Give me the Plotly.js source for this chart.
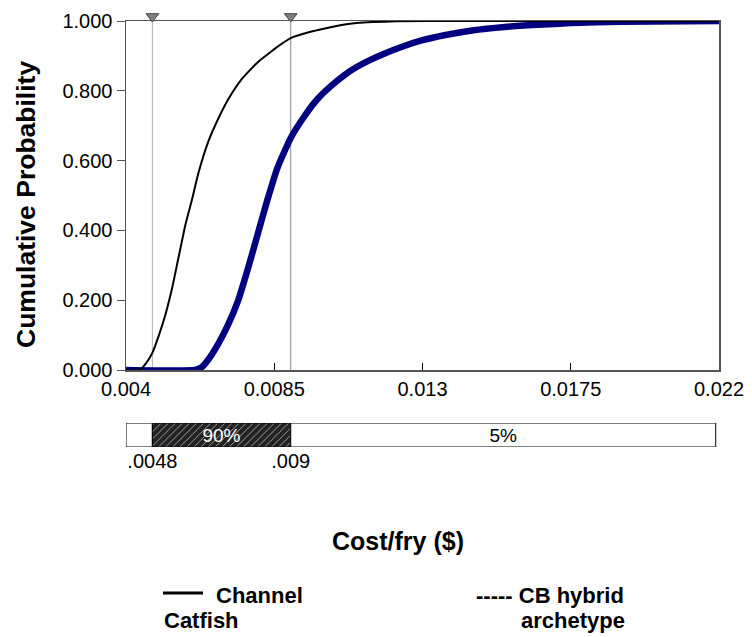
<!DOCTYPE html>
<html>
<head>
<meta charset="utf-8">
<script src="https://cdn.plot.ly/plotly-3.0.1.min.js"></script>
<style>
  html, body { margin: 0; padding: 0; background: #fff; }
  #chart { width: 752px; height: 637px; }
</style>
</head>
<body>
<div id="chart"></div>
<script>
// Cumulative distributions of cost per fry
const catfishX = [0.0040, 0.00442, 0.0046, 0.0048, 0.0050, 0.0052, 0.0054, 0.0056, 0.0058, 0.0060,
                  0.0062, 0.0065, 0.0068, 0.0071, 0.0075, 0.0080, 0.0084, 0.0087, 0.0090, 0.0096,
                  0.0100, 0.0105, 0.0110, 0.0115, 0.0122, 0.0140, 0.0220];
const catfishY = [0, 0, 0.018, 0.049, 0.10, 0.16, 0.235, 0.325, 0.415, 0.487,
                  0.565, 0.655, 0.72, 0.775, 0.832, 0.882, 0.912, 0.933, 0.951, 0.969,
                  0.978, 0.988, 0.994, 0.997, 0.999, 1.0, 1.0];

const hybridX = [0.0040, 0.0061, 0.0063, 0.0065, 0.0068, 0.0071, 0.0074, 0.0077, 0.0080, 0.0083,
                 0.0086, 0.0090, 0.0094, 0.0098, 0.0102, 0.0106, 0.0110, 0.0114, 0.0118, 0.0124,
                 0.0130, 0.0137, 0.0145, 0.0155, 0.0165, 0.0175, 0.0190, 0.0220];
const hybridY = [0, 0, 0.008, 0.03, 0.075, 0.13, 0.198, 0.29, 0.39, 0.49,
                 0.58, 0.665, 0.725, 0.775, 0.812, 0.843, 0.868, 0.888, 0.905, 0.927,
                 0.945, 0.960, 0.973, 0.983, 0.989, 0.994, 0.998, 1.0];

// Delimiters (5% and 95% points) and the band beneath the axis
const delimiters = [0.0048, 0.009];
const delimiterLabels = ['.0048', '.009'];
const bandEdges = [0.004, 0.0048, 0.009, 0.0219];
const bandLabels = ['', '90%', '5%'];

// Axis ticks
const xTicks = [0.004, 0.0085, 0.013, 0.0175, 0.022];
const xTickText = ['0.004', '0.0085', '0.013', '0.0175', '0.022'];
const yTicks = [0, 0.2, 0.4, 0.6, 0.8, 1.0];
const yTickText = ['0.000', '0.200', '0.400', '0.600', '0.800', '1.000'];

const FONT = '"Liberation Sans", Arial, Helvetica, sans-serif';
const markerLevel = 1.013;

// Pixel frame of the whole plotting region (main chart plus band)
const plotTop = 10, plotBottom = 447, plotLeft = 126, plotRight = 719;
const H = plotBottom - plotTop, W = plotRight - plotLeft;
const px = v => (v - plotLeft) / W;
const py = v => (plotBottom - v) / H;
const mainTop = 21, mainBottom = 370, bandTop = 423;

const traces = [
  {
    x: [delimiters[0], delimiters[0]], y: [0, 1], mode: 'lines', hoverinfo: 'skip',
    line: { color: '#b0b0b0', width: 1 }, showlegend: false
  },
  {
    x: [delimiters[1], delimiters[1]], y: [0, 1], mode: 'lines', hoverinfo: 'skip',
    line: { color: '#888888', width: 1 }, showlegend: false
  },
  {
    x: hybridX, y: hybridY, mode: 'lines', name: 'CB hybrid archetype',
    line: { color: '#000080', width: 6.5, shape: 'spline', smoothing: 0.5 }, showlegend: false
  },
  {
    x: catfishX, y: catfishY, mode: 'lines', name: 'Channel Catfish',
    line: { color: '#000000', width: 2, shape: 'spline', smoothing: 0.5 }, showlegend: false
  },
  {
    // delimiter markers sit just above the 1.000 line, on a taller twin axis
    x: delimiters, y: delimiters.map(() => markerLevel), yaxis: 'y3', mode: 'markers',
    hoverinfo: 'skip', showlegend: false,
    marker: { symbol: 'triangle-down', size: 11, color: '#808080', line: { color: '#404040', width: 1 } }
  }
];

// Band segments: plain, hatched 90% interval, plain
const segStyles = [
  { color: '#ffffff', pattern: { shape: '' }, textColor: '#000' },
  { color: '#222222', pattern: { shape: '/', bgcolor: '#222222', fgcolor: '#c8c8c8', size: 5, solidity: 0.15 }, textColor: '#fff' },
  { color: '#ffffff', pattern: { shape: '' }, textColor: '#000' }
];
for (let i = 0; i < bandLabels.length; i++) {
  traces.push({
    type: 'bar', orientation: 'h', xaxis: 'x2', yaxis: 'y2',
    y: [0], base: [bandEdges[i]], x: [bandEdges[i + 1] - bandEdges[i]], width: [1],
    text: [bandLabels[i]], textposition: 'inside', insidetextanchor: 'middle',
    textangle: 0, constraintext: 'none',
    textfont: { family: FONT, size: 19, color: segStyles[i].textColor },
    marker: { color: segStyles[i].color, pattern: segStyles[i].pattern, line: { color: '#000', width: 1 } },
    hoverinfo: 'skip', showlegend: false
  });
}

const legendFont = { family: FONT, size: 22, color: '#000' };
const annotations = [
  { text: '<b>Channel</b>', x: px(214), y: py(595), xanchor: 'left', yanchor: 'middle' },
  { text: '<b>Catfish</b>', x: px(162), y: py(620), xanchor: 'left', yanchor: 'middle' },
  { text: '<b>----- CB hybrid</b>', x: px(474), y: py(595), xanchor: 'left', yanchor: 'middle' },
  { text: '<b>archetype</b>', x: px(519), y: py(620), xanchor: 'left', yanchor: 'middle' },
  { text: '<b>Cost/fry ($)</b>', x: px(398), y: py(541), xanchor: 'center', yanchor: 'middle',
    font: { family: FONT, size: 25, color: '#000' } },
  { text: '<b>Cumulative Probability</b>', x: px(26), y: py(205), xanchor: 'center', yanchor: 'middle',
    textangle: -90, font: { family: FONT, size: 26.5, color: '#000' } }
].map(a => Object.assign({ xref: 'paper', yref: 'paper', showarrow: false, font: legendFont }, a));

const mainDomain = [py(mainBottom), py(mainTop)];
const yPerPx = 1 / (mainBottom - mainTop);

const layout = {
  width: 752, height: 637,
  margin: { l: plotLeft, r: 752 - plotRight, t: plotTop, b: 637 - plotBottom },
  paper_bgcolor: '#fff', plot_bgcolor: 'rgba(0,0,0,0)',
  font: { family: FONT, size: 20, color: '#000' },
  barmode: 'overlay', bargap: 0,
  xaxis: {
    range: [0.004, 0.022], anchor: 'y', tickvals: xTicks, ticktext: xTickText,
    ticks: 'inside', ticklen: 7, tickcolor: '#000', tickwidth: 1,
    showline: true, linecolor: '#555', linewidth: 1.5, mirror: true,
    showgrid: false, zeroline: false, tickfont: { family: FONT, size: 20, color: '#000' }
  },
  yaxis: {
    range: [0, 1], domain: mainDomain, tickvals: yTicks, ticktext: yTickText,
    ticks: 'outside', ticklen: 8, tickcolor: '#555', tickwidth: 1,
    showline: true, linecolor: '#555', linewidth: 1.5, mirror: true,
    showgrid: false, zeroline: false, tickfont: { family: FONT, size: 20, color: '#000' }
  },
  yaxis3: {
    anchor: 'x', domain: [mainDomain[0], 1], range: [0, (mainBottom - plotTop) * yPerPx],
    visible: false, showgrid: false, zeroline: false
  },
  xaxis2: {
    range: [0.004, 0.022], anchor: 'y2', tickvals: delimiters, ticktext: delimiterLabels,
    ticks: '', showline: false, showgrid: false, zeroline: false,
    tickfont: { family: FONT, size: 20, color: '#000' }
  },
  yaxis2: {
    range: [-0.5, 0.5], domain: [0, py(bandTop)], visible: false
  },
  shapes: [
    { type: 'line', xref: 'paper', yref: 'paper', x0: px(163), x1: px(203), y0: py(593), y1: py(593),
      line: { color: '#000', width: 3 } }
  ],
  annotations: annotations,
  showlegend: false
};

Plotly.newPlot('chart', traces, layout, { displayModeBar: false, staticPlot: true });
</script>
</body>
</html>
